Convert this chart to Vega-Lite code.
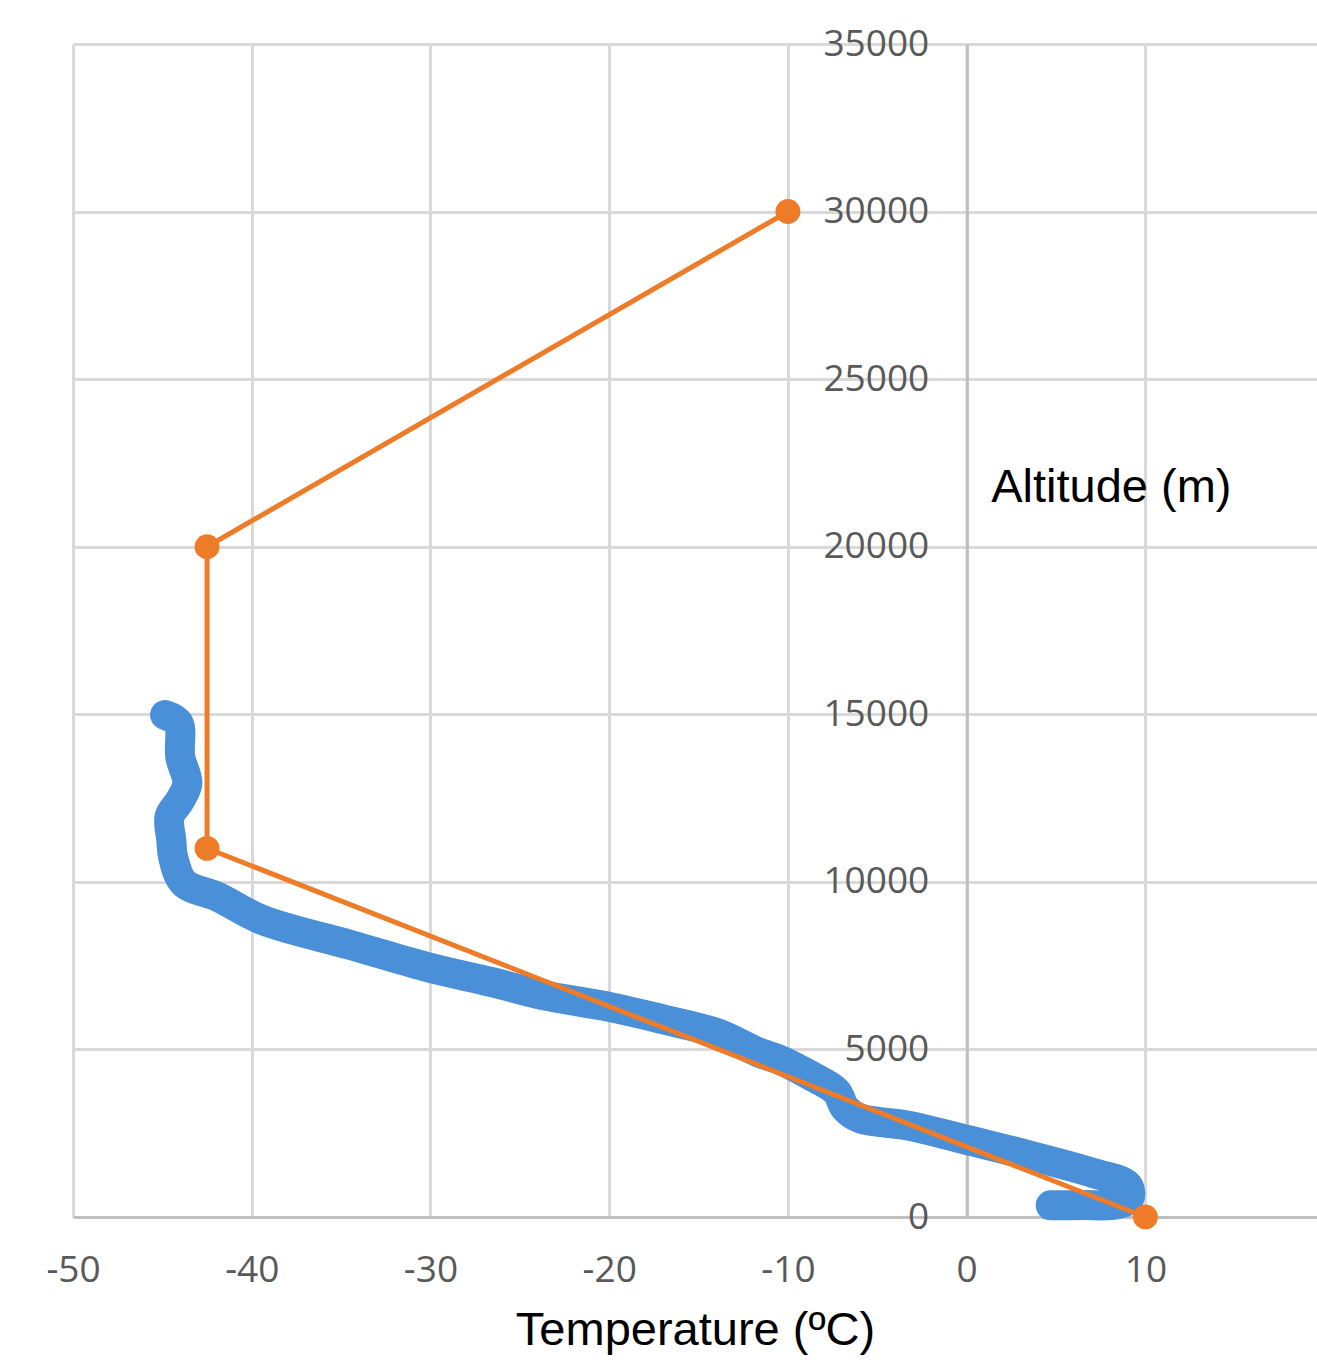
{
  "$schema": "https://vega.github.io/schema/vega-lite/v6.json",
  "width": 1244,
  "height": 1173,
  "autosize": {"type": "none"},
  "padding": {"left": 73, "top": 44, "right": 0, "bottom": 147},
  "background": "white",
  "config": {
    "view": {"stroke": null},
    "axis": {
      "labelFont": "Open Sans",
      "labelFontSize": 37,
      "labelColor": "#595959",
      "labelExpr": "'' + datum.value",
      "gridColor": "#D9D9D9",
      "gridWidth": 3,
      "domainColor": "#BFBFBF",
      "domainWidth": 3,
      "ticks": false,
      "tickSize": 0,
      "titleFont": "Liberation Sans",
      "titleFontSize": 47,
      "titleFontWeight": "normal",
      "titleColor": "#000000"
    }
  },
  "datasets": {
    "sonde": [
      {"n": 1, "temp": 4.7, "alt": 350},
      {"n": 2, "temp": 6.5, "alt": 355},
      {"n": 3, "temp": 8.3, "alt": 370},
      {"n": 4, "temp": 9.1, "alt": 550},
      {"n": 5, "temp": 9.0, "alt": 950},
      {"n": 6, "temp": 7.1, "alt": 1310},
      {"n": 7, "temp": 3.4, "alt": 1850},
      {"n": 8, "temp": 0.0, "alt": 2300},
      {"n": 9, "temp": -3.2, "alt": 2720},
      {"n": 10, "temp": -6.0, "alt": 2950},
      {"n": 11, "temp": -6.8, "alt": 3250},
      {"n": 12, "temp": -7.3, "alt": 3750},
      {"n": 13, "temp": -8.8, "alt": 4240},
      {"n": 14, "temp": -10.5, "alt": 4700},
      {"n": 15, "temp": -11.6, "alt": 4900},
      {"n": 16, "temp": -14.0, "alt": 5490},
      {"n": 17, "temp": -17.0, "alt": 5900},
      {"n": 18, "temp": -20.0, "alt": 6270},
      {"n": 19, "temp": -23.7, "alt": 6620},
      {"n": 20, "temp": -26.5, "alt": 7000},
      {"n": 21, "temp": -30.2, "alt": 7460},
      {"n": 22, "temp": -34.5, "alt": 8120},
      {"n": 23, "temp": -39.4, "alt": 8860},
      {"n": 24, "temp": -41.9, "alt": 9550},
      {"n": 25, "temp": -43.8, "alt": 9970},
      {"n": 26, "temp": -44.4, "alt": 10740},
      {"n": 27, "temp": -44.5, "alt": 11250},
      {"n": 28, "temp": -44.6, "alt": 11940},
      {"n": 29, "temp": -44.0, "alt": 12440},
      {"n": 30, "temp": -43.6, "alt": 12950},
      {"n": 31, "temp": -44.0, "alt": 13730},
      {"n": 32, "temp": -44.1, "alt": 14740},
      {"n": 33, "temp": -44.85, "alt": 14980}
    ],
    "model": [
      {"n": 1, "temp": 10, "alt": 0},
      {"n": 2, "temp": -42.5, "alt": 11000},
      {"n": 3, "temp": -42.5, "alt": 20000},
      {"n": 4, "temp": -10, "alt": 30000}
    ]
  },
  "encoding": {
    "x": {
      "field": "temp",
      "type": "quantitative",
      "scale": {"domain": [-50, 19.6], "nice": false, "zero": false},
      "axis": {
        "values": [-50, -40, -30, -20, -10, 0, 10, 20],
        "title": "Temperature (ºC)",
        "titleY": 113,
        "titleBaseline": "middle",
        "labelPadding": 35,
        "labelFlush": false,
        "labelOverlap": false
      }
    },
    "y": {
      "field": "alt",
      "type": "quantitative",
      "scale": {"domain": [0, 35000], "nice": false, "zero": false},
      "axis": {
        "values": [0, 5000, 10000, 15000, 20000, 25000, 30000, 35000],
        "offset": -893.7,
        "labelPadding": 38,
        "title": "Altitude (m)",
        "titleAngle": 0,
        "titleX": 24,
        "titleY": 443,
        "titleAlign": "left",
        "titleBaseline": "middle"
      }
    },
    "order": {"field": "n", "type": "quantitative"}
  },
  "layer": [
    {
      "data": {"name": "sonde"},
      "mark": {"type": "line", "color": "#4A90D9", "strokeWidth": 30, "strokeCap": "round", "strokeJoin": "round", "interpolate": "catmull-rom"}
    },
    {
      "data": {"name": "model"},
      "mark": {"type": "line", "color": "#EE7B27", "strokeWidth": 5, "point": {"filled": true, "size": 620, "color": "#EE7B27", "opacity": 1}}
    }
  ]
}
